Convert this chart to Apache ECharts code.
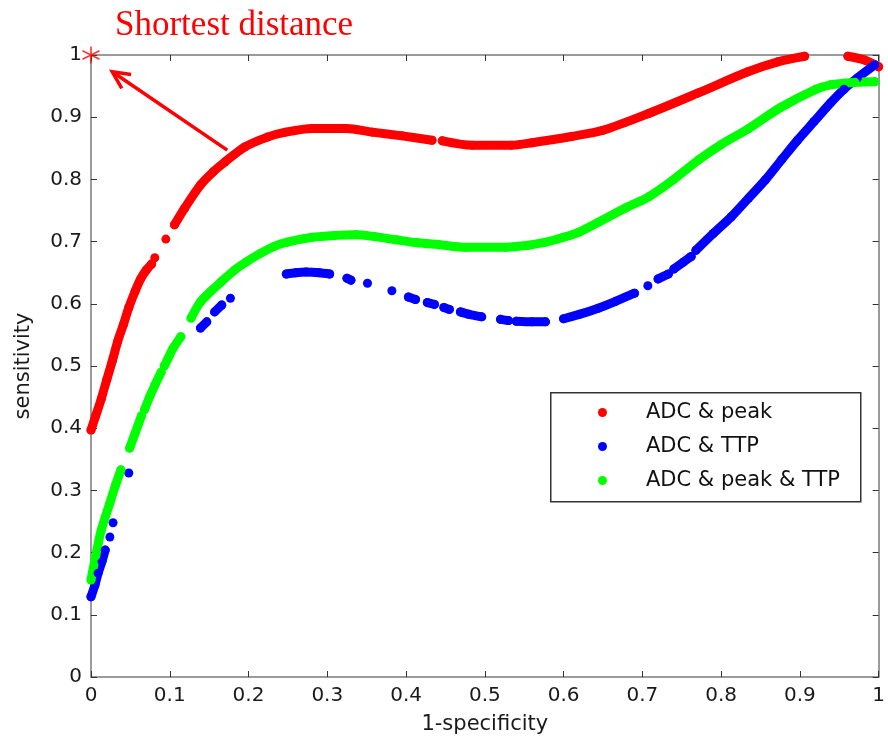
<!DOCTYPE html>
<html>
<head>
<meta charset="utf-8">
<script src="https://cdn.jsdelivr.net/npm/echarts@6/dist/echarts.min.js"></script>
<style>html,body{margin:0;padding:0;background:#fff;}#c{width:888px;height:743px;}</style>
</head>
<body>
<div id="c"></div>
<script>
// ---- data; null = gap between point runs ----
const seriesNames = ['ADC & peak', 'ADC & TTP', 'ADC & peak & TTP'];
const xTickLabels = ['0','0.1','0.2','0.3','0.4','0.5','0.6','0.7','0.8','0.9','1'];
const yTickLabels = ['0','0.1','0.2','0.3','0.4','0.5','0.6','0.7','0.8','0.9','1'];

const adcPeak = [
  [0.000,0.397],[0.006,0.420],[0.013,0.447],[0.020,0.478],[0.027,0.508],[0.034,0.540],[0.041,0.566],[0.048,0.594],[0.056,0.620],[0.063,0.640],[0.070,0.654],[0.077,0.664],
  null,[0.081,0.674],
  null,[0.095,0.704],
  null,[0.106,0.727],[0.119,0.754],[0.139,0.791],[0.155,0.812],[0.170,0.828],[0.195,0.852],[0.224,0.868],[0.247,0.876],[0.281,0.882],[0.324,0.882],[0.357,0.876],[0.395,0.870],[0.433,0.863],
  null,[0.446,0.862],[0.484,0.855],[0.534,0.855],[0.560,0.859],[0.610,0.869],[0.650,0.879],[0.708,0.906],[0.771,0.939],[0.834,0.973],[0.872,0.989],[0.906,0.998],
  null,[0.961,0.998],[0.982,0.992],[1.000,0.981]
];

const adcTtp = [
  [0.000,0.129],[0.005,0.148],[0.009,0.167],[0.014,0.186],[0.018,0.204],
  null,[0.024,0.225],
  null,[0.028,0.248],
  null,[0.048,0.328],
  null,[0.139,0.561],[0.147,0.571],
  null,[0.157,0.587],[0.166,0.598],
  null,[0.177,0.609],
  null,[0.248,0.648],[0.260,0.650],[0.273,0.651],[0.290,0.650],[0.303,0.648],
  null,[0.325,0.641],[0.330,0.638],
  null,[0.351,0.633],
  null,[0.382,0.621],
  null,[0.403,0.611],[0.412,0.607],
  null,[0.427,0.602],[0.436,0.599],
  null,[0.448,0.594],[0.455,0.591],
  null,[0.469,0.587],[0.480,0.583],[0.496,0.579],
  null,[0.520,0.575],[0.530,0.573],
  null,[0.540,0.572],[0.560,0.571],[0.577,0.571],
  null,[0.600,0.576],[0.620,0.583],[0.644,0.593],[0.666,0.604],[0.690,0.617],
  null,[0.707,0.629],
  null,[0.720,0.640],[0.733,0.648],
  null,[0.740,0.656],[0.752,0.667],[0.762,0.676],
  null,[0.768,0.686],[0.790,0.713],[0.813,0.740],[0.835,0.770],[0.856,0.799],[0.877,0.832],[0.897,0.863],[0.918,0.893],[0.939,0.923],[0.956,0.945],[0.973,0.963],[0.995,0.984]
];

const adcPeakTtp = [
  [0.000,0.156],[0.006,0.195],[0.013,0.236],[0.024,0.280],[0.031,0.308],[0.038,0.333],
  null,[0.049,0.368],[0.056,0.392],[0.064,0.420],
  null,[0.068,0.430],[0.075,0.452],[0.081,0.469],[0.089,0.490],
  null,[0.093,0.500],[0.097,0.510],[0.104,0.528],[0.114,0.547],
  null,[0.127,0.577],[0.139,0.603],[0.152,0.620],[0.165,0.635],[0.182,0.654],[0.198,0.668],[0.215,0.681],[0.232,0.692],[0.249,0.699],[0.281,0.707],[0.310,0.710],[0.337,0.711],[0.360,0.708],[0.387,0.703],[0.415,0.698],[0.442,0.695],[0.476,0.691],[0.527,0.691],[0.555,0.694],[0.577,0.699],[0.600,0.707],[0.619,0.715],[0.644,0.731],[0.680,0.755],[0.708,0.772],[0.740,0.800],[0.771,0.831],[0.800,0.856],[0.834,0.881],[0.876,0.916],[0.919,0.944],[0.939,0.952],[0.970,0.956],[0.995,0.957]
];

const bestPoint = [[0, 1]];
const arrowFrom = [0.173, 0.847];
const arrowTo = [0.027, 0.973];
const annotationText = 'Shortest distance';

// ---- chart ----
const colors = ['#ff0000', '#0000ff', '#00ff00'];
const toData = arr => arr.map(p => p === null ? ['-', '-'] : p);
const chart = echarts.init(document.getElementById('c'), null, {renderer: 'canvas'});
const tickFont = {fontFamily: 'DejaVu Sans', fontSize: 20, color: '#1a1a1a'};
const axisLineStyle = {color: '#7a7a7a', width: 1.5};
const tickStyle = {color: '#333', width: 1};

function curve(name, arr, color) {
  return {
    name: name, type: 'line', data: toData(arr), smooth: 0.3, connectNulls: false,
    symbol: 'circle', symbolSize: 9, showSymbol: true, showAllSymbol: true,
    itemStyle: {color: color}, lineStyle: {color: color, width: 9, cap: 'round', join: 'round'},
    emphasis: {disabled: true}, clip: false, animation: false, z: 3
  };
}

chart.setOption({
  animation: false,
  backgroundColor: '#fff',
  title: {
    text: annotationText, left: 110, top: 3,
    textStyle: {color: '#ff0000', fontFamily: 'Liberation Serif', fontSize: 35, fontWeight: 'normal'}
  },
  grid: {left: 91, top: 55, width: 790, height: 622, containLabel: false},
  legend: {
    data: seriesNames, orient: 'vertical', left: 598, top: 402, padding: 0,
    itemGap: 13, itemWidth: 9, itemHeight: 9, icon: 'circle', selectedMode: false,
    textStyle: {fontFamily: 'DejaVu Sans', fontSize: 21, color: '#111', padding: [0, 0, 0, 34], lineHeight: 21}
  },
  xAxis: [
    {type: 'value', min: 0, max: 1, interval: 0.1, position: 'bottom',
     name: '1-specificity', nameLocation: 'middle', nameGap: 37,
     nameTextStyle: {fontFamily: 'DejaVu Sans', fontSize: 21, color: '#1a1a1a'},
     axisLine: {show: true, onZero: false, lineStyle: axisLineStyle},
     axisTick: {show: true, inside: true, length: 6, lineStyle: tickStyle},
     axisLabel: Object.assign({margin: 9, formatter: v => xTickLabels[Math.round(v * 10)]}, tickFont),
     splitLine: {show: false}},
    {type: 'value', min: 0, max: 1, interval: 0.1, position: 'top',
     axisLine: {show: true, onZero: false, lineStyle: axisLineStyle},
     axisTick: {show: true, inside: true, length: 6, lineStyle: tickStyle},
     axisLabel: {show: false}, splitLine: {show: false}}
  ],
  yAxis: [
    {type: 'value', min: 0, max: 1, interval: 0.1, position: 'left',
     name: 'sensitivity', nameLocation: 'middle', nameGap: 57,
     nameTextStyle: {fontFamily: 'DejaVu Sans', fontSize: 21, color: '#1a1a1a'},
     axisLine: {show: true, onZero: false, lineStyle: axisLineStyle},
     axisTick: {show: true, inside: true, length: 6, lineStyle: tickStyle},
     axisLabel: Object.assign({margin: 9, formatter: v => yTickLabels[Math.round(v * 10)]}, tickFont),
     splitLine: {show: false}},
    {type: 'value', min: 0, max: 1, interval: 0.1, position: 'right',
     axisLine: {show: true, onZero: false, lineStyle: axisLineStyle},
     axisTick: {show: true, inside: true, length: 6, lineStyle: tickStyle},
     axisLabel: {show: false}, splitLine: {show: false}}
  ],
  series: [
    curve(seriesNames[0], adcPeak, colors[0]),
    curve(seriesNames[1], adcTtp, colors[1]),
    curve(seriesNames[2], adcPeakTtp, colors[2]),
    {type: 'scatter', data: bestPoint, clip: false, z: 10,
     symbol: 'path://M8,0 L8,16 M1,4 L15,12 M1,12 L15,4', symbolSize: 17,
     itemStyle: {color: 'none', borderColor: '#ff0000', borderWidth: 1.6},
     emphasis: {disabled: true}}
  ]
});

// legend frame and arrow annotation (positions via the chart's own scales)
const p0 = chart.convertToPixel({xAxisIndex: 0, yAxisIndex: 0}, arrowFrom);
const p1 = chart.convertToPixel({xAxisIndex: 0, yAxisIndex: 0}, arrowTo);
const ang = Math.atan2(p0[1] - p1[1], p0[0] - p1[0]);
const headLen = 19, headAng = 0.45;
const h1 = [p1[0] + headLen * Math.cos(ang + headAng), p1[1] + headLen * Math.sin(ang + headAng)];
const h2 = [p1[0] + headLen * Math.cos(ang - headAng), p1[1] + headLen * Math.sin(ang - headAng)];
chart.setOption({
  graphic: [
    {type: 'rect', left: 550, top: 392, z: -1, silent: true,
     shape: {width: 310, height: 109}, style: {fill: '#fff', stroke: '#333', lineWidth: 1.5}},
    {type: 'line', silent: true, z: 20, shape: {x1: p0[0], y1: p0[1], x2: p1[0], y2: p1[1]},
     style: {stroke: '#ff0000', lineWidth: 3.5}},
    {type: 'polyline', silent: true, z: 20, shape: {points: [h1, p1, h2]},
     style: {stroke: '#ff0000', lineWidth: 3.5, fill: null, lineJoin: 'miter'}}
  ]
});
</script>
</body>
</html>
